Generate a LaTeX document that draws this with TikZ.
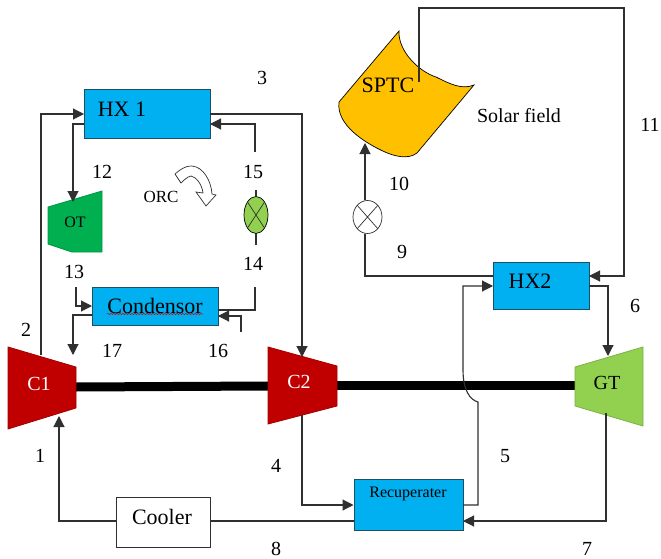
\documentclass[tikz,border=0pt]{standalone}
\usepackage{fontspec}
\setmainfont{Liberation Serif}
\usetikzlibrary{arrows.meta,decorations.pathmorphing,shapes.geometric}
\definecolor{hxblue}{HTML}{00B0F0}
\definecolor{cred}{HTML}{C00000}
\definecolor{otgreen}{HTML}{00B050}
\definecolor{gtgreen}{HTML}{92D050}
\definecolor{gold}{HTML}{FFC000}
\definecolor{edge}{HTML}{1F4E60}
\definecolor{lin}{HTML}{303030}
\tikzset{
  box/.style={draw=edge,line width=1pt,fill=hxblue,inner sep=0pt},
  pipe/.style={draw=lin,line width=1.1pt},
  flow/.style={pipe,-{Triangle[length=11pt,width=11pt]}},
  num/.style={font=\fontsize{20}{22}\selectfont,inner sep=0pt},
  lab/.style={font=\fontsize{#1}{#1}\selectfont,inner sep=0pt},
  lab/.default=20,
  turb/.style={draw=#1!85!black,fill=#1,line width=.8pt},
  shaft/.style={line width=9pt,black},
}
\begin{document}
\begin{tikzpicture}[x=1pt,y=-1pt]
\useasboundingbox (0,0) rectangle (661,559);
% shaft
\coordinate (s1) at (76,387);
\coordinate (s2) at (268,386);
\coordinate (s3) at (337,385);
\coordinate (s4) at (575,385);
\draw[shaft] (s1) -- (s2);
\draw[shaft] (s3) -- (s4);
% boxes
\node[box,minimum width=126pt,minimum height=49pt] (hx1) at (147,114.5) {};
\node[box,minimum width=126pt,minimum height=38pt] (cond) at (155,306) {};
\node[box,minimum width=96pt,minimum height=47pt] (hx2) at (541,285.5) {};
\node[box,minimum width=109pt,minimum height=51pt] (rec) at (408.5,504.5) {};
\node[draw=lin,line width=1pt,fill=white,minimum width=94pt,minimum height=50pt,inner sep=0pt] (cool) at (163,522) {};
% turbomachines
\fill[turb=cred] (8,347) -- (76,367) -- (76,408) -- (8,429) -- cycle;
\fill[turb=cred] (268,347) -- (337,366) -- (337,406) -- (268,424) -- cycle;
\fill[turb=gtgreen] (575,367) -- (643,347) -- (643,426) -- (575,406) -- cycle;
\fill[turb=otgreen] (48,207) -- (102,191) -- (102,252) -- (72,252) -- (48,244) -- cycle;
% SPTC
\fill[draw=black,line width=.7pt,fill=gold] (399,31) .. controls (398,52) and (420,72) .. (436,77)
  .. controls (450,84) and (462,90) .. (474,85)
  -- (417,153) .. controls (408,160) and (394,156) .. (385,152)
  .. controls (365,143) and (336,125) .. (339,102) -- cycle;
% valves
\node[draw=black,line width=.7pt,fill=gtgreen,ellipse,minimum width=24pt,minimum height=37pt,inner sep=0pt] (v1) at (256,215) {};
\node[draw=lin,line width=.7pt,fill=white,ellipse,minimum width=29pt,minimum height=33pt,inner sep=0pt] (v2) at (367.5,217) {};
\draw[line width=.7pt,lin] (v1.north west) -- (v1.south east) (v1.north east) -- (v1.south west);
\draw[line width=.7pt,lin] (v2.north west) -- (v2.south east) (v2.north east) -- (v2.south west);
% ports
\coordinate (c1top) at (41,355);
\coordinate (hx1a) at (84,114);
\coordinate (hx1b) at (84,124);
\coordinate (ottop) at (73,202);
\coordinate (hx1c) at (210,114);
\coordinate (hx1d) at (210,124);
\coordinate (c2top) at (302,357);
\coordinate (c2bot) at (302,415);
\coordinate (e15) at (255,152);
\coordinate (e14) at (255,287);
\coordinate (e13) at (76,287);
\coordinate (conda) at (92,306);
\coordinate (condb) at (92,315);
\coordinate (condc) at (218,310);
\coordinate (condd) at (218,316);
\coordinate (e16) at (241,332);
\coordinate (e17) at (73,355);
\coordinate (v1t) at (256,190);
\coordinate (v1b) at (256,245);
\coordinate (hx2a) at (589,276);
\coordinate (hx2b) at (589,286);
\coordinate (hx2c) at (493,276);
\coordinate (hx2d) at (493,286);
\coordinate (gttop) at (608,356);
\coordinate (gtbot) at (606,413);
\coordinate (strt) at (419,82);
\coordinate (strb) at (365,143);
\coordinate (reca) at (353.5,505);
\coordinate (recb) at (463,505);
\coordinate (recc) at (463,521);
\coordinate (recd) at (353.5,521);
\coordinate (coolr) at (210,521);
\coordinate (cooll) at (116,521);
\coordinate (c1bot) at (59,416);
% connectors
\draw[flow] (c1top) |- (hx1a);
\draw[flow] (hx1b) -| (ottop);
\draw[flow] (hx1c) -| (c2top);
\draw[flow] (e15) |- (hx1d);
\draw[pipe] (v1t) -- (v1.north);
\draw[pipe] (v1b) -- (v1.south);
\draw[pipe] (e14) |- (condc);
\draw[flow] (e13) |- (conda);
\draw[flow] (condb) -| (e17);
\draw[flow] (e16) |- (condd);
\draw[flow] (strt) -- (419,8) -- (624,8) |- (hx2a);
\draw[flow] (hx2b) -| (gttop);
\draw[pipe] (hx2c) -| (v2.south -| strb);
\draw[flow] (v2.north -| strb) -- (strb);
\draw[flow] (recb) -| (478,402) .. controls (470,400) and (463,390) .. (463,370) |- (hx2d);
\draw[flow] (c2bot) |- (reca);
\draw[flow] (gtbot) |- (recc);
\draw[pipe] (recd) -- (coolr);
\draw[flow] (cooll) -| (c1bot);
% ORC arrow
\draw[lin,line width=.7pt,fill=white] (175,174) .. controls (180,170) and (184,166) .. (192,166)
  .. controls (203,167) and (211,180) .. (212,194) -- (216,195) -- (206,206) -- (196,192) -- (203,193)
  .. controls (202,184) and (196,177) .. (191,176) .. controls (187,177) and (184,180) .. (181,183) -- cycle;
% wavy underline
\draw[red!80!black,line width=.5pt,decorate,decoration={snake,amplitude=.6pt,segment length=3pt}] (107,314) -- (203,314);
% texts
\node[lab=22] (thx1) at (122,109) {HX 1};
\node[lab=16,text=black] (tot) at (75,222) {OT};
\node[lab=17] (torc) at (161,197) {ORC};
\node[lab=22] (tcond) at (155,306) {Condensor};
\node[lab=22] (tsptc) at (388,85) {SPTC};
\node[lab=20] (tsol) at (519,116) {Solar field};
\node[lab=22] (thx2) at (530,281) {HX2};
\node[lab=16] (trec) at (408,494) {Recuperater};
\node[lab=22] (tcool) at (162,517) {Cooler};
\node[lab=20,text=white] (tc1) at (39,384) {C1};
\node[lab=20,text=white] (tc2) at (299,382) {C2};
\node[lab=20] (tgt) at (607,383) {GT};
\node[num] (n1) at (40,456) {1};
\node[num] (n2) at (26,330) {2};
\node[num] (n3) at (262,78) {3};
\node[num] (n4) at (276,466) {4};
\node[num] (n5) at (505,456) {5};
\node[num] (n6) at (635,306) {6};
\node[num] (n7) at (587,549) {7};
\node[num] (n8) at (276,549) {8};
\node[num] (n9) at (402,252) {9};
\node[num] (n10) at (399,184) {10};
\node[num] (n11) at (650,125) {11};
\node[num] (n12) at (102,172) {12};
\node[num] (n13) at (74,272) {13};
\node[num] (n14) at (253,264) {14};
\node[num] (n15) at (253,172) {15};
\node[num] (n16) at (218,351) {16};
\node[num] (n17) at (112,351) {17};
\end{tikzpicture}
\end{document}
